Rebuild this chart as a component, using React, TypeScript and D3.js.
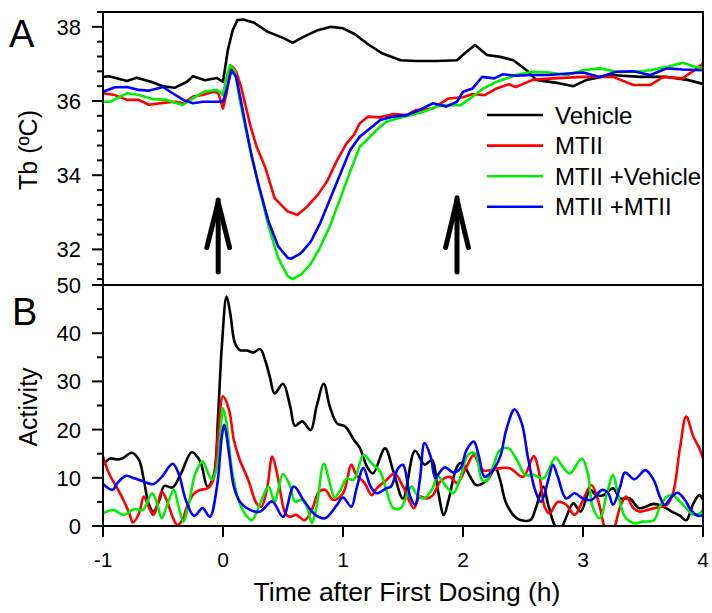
import React from "react";
import * as d3 from "d3";

// shared time axis (h)
const timeTicks = [-1, 0, 1, 2, 3, 4];
const tbTicks = [32, 34, 36, 38];
const activityTicks = [0, 10, 20, 30, 40, 50];
const seriesNames = ["Vehicle", "MTII", "MTII +Vehicle", "MTII +MTII"];
const seriesColors = ["#000000", "#ff0000", "#00ee00", "#0000ff"];
// dosing arrows: time, tail Tb, tip Tb
const doseArrows = [
  [-0.04, 31.39, 33.33],
  [1.95, 31.39, 33.39],
];

// body temperature (ºC), [time, value]
const tbVehicle = [
  [-1, 36.65], [-0.95, 36.67], [-0.8, 36.54], [-0.72, 36.63], [-0.6, 36.52], [-0.5, 36.4],
  [-0.4, 36.36], [-0.3, 36.52], [-0.25, 36.67], [-0.15, 36.56], [-0.05, 36.62], [0, 36.52],
  [0.04, 37.37], [0.08, 37.9], [0.12, 38.18], [0.17, 38.2], [0.26, 38.11], [0.37, 37.87],
  [0.51, 37.69], [0.58, 37.57], [0.67, 37.73], [0.79, 37.91], [0.9, 38.0], [1.0, 37.96],
  [1.1, 37.8], [1.2, 37.55], [1.33, 37.28], [1.48, 37.1], [1.61, 37.08], [1.78, 37.08],
  [1.95, 37.1], [2.02, 37.3], [2.1, 37.51], [2.2, 37.24], [2.31, 37.19], [2.42, 37.1],
  [2.53, 36.83], [2.61, 36.57], [2.78, 36.49], [2.92, 36.4], [3.03, 36.57], [3.23, 36.7],
  [3.48, 36.65], [3.7, 36.65], [3.87, 36.57], [4.0, 36.46],
];
const tbMTII = [
  [-1, 36.21], [-0.9, 36.16], [-0.8, 36.03], [-0.7, 36.03], [-0.62, 35.9], [-0.5, 35.95],
  [-0.4, 35.98], [-0.33, 35.94], [-0.25, 36.12], [-0.17, 36.16], [-0.08, 36.25], [-0.04, 36.22],
  [0.0, 35.8], [0.03, 36.21], [0.06, 36.83], [0.08, 36.92], [0.11, 36.79], [0.15, 36.39],
  [0.19, 35.85], [0.23, 35.31], [0.28, 34.77], [0.35, 34.23], [0.43, 33.38], [0.54, 33.02],
  [0.62, 32.93], [0.7, 33.15], [0.79, 33.47], [0.87, 33.85], [0.95, 34.4], [1.03, 34.86],
  [1.09, 35.08], [1.14, 35.4], [1.21, 35.58], [1.31, 35.56], [1.42, 35.65], [1.53, 35.62],
  [1.61, 35.76], [1.75, 35.8], [1.88, 36.07], [2.0, 36.1], [2.08, 36.19], [2.18, 36.16],
  [2.28, 36.34], [2.38, 36.45], [2.44, 36.38], [2.58, 36.57], [2.75, 36.61], [3.0, 36.65],
  [3.25, 36.65], [3.42, 36.43], [3.56, 36.43], [3.67, 36.65], [3.83, 36.61], [3.95, 36.88],
  [4.0, 37.01],
];
const tbMTIIVehicle = [
  [-1, 35.98], [-0.94, 35.98], [-0.8, 36.21], [-0.7, 36.16], [-0.58, 36.05], [-0.47, 36.03],
  [-0.34, 35.89], [-0.25, 36.07], [-0.16, 36.25], [-0.05, 36.3], [0.0, 36.16], [0.03, 36.65],
  [0.06, 36.97], [0.1, 36.79], [0.14, 36.03], [0.18, 35.4], [0.23, 34.64], [0.3, 33.69],
  [0.38, 32.62], [0.46, 31.77], [0.54, 31.27], [0.58, 31.2], [0.65, 31.32], [0.73, 31.6],
  [0.81, 32.06], [0.89, 32.62], [0.98, 33.4], [1.06, 34.1], [1.14, 34.77], [1.2, 34.95],
  [1.28, 35.22], [1.36, 35.44], [1.45, 35.53], [1.56, 35.62], [1.67, 35.71], [1.78, 35.85],
  [1.86, 35.89], [1.98, 35.89], [2.06, 36.07], [2.17, 36.34], [2.28, 36.52], [2.38, 36.63],
  [2.44, 36.7], [2.58, 36.79], [2.72, 36.77], [2.87, 36.7], [3.0, 36.83], [3.14, 36.88],
  [3.28, 36.79], [3.42, 36.79], [3.56, 36.83], [3.7, 36.92], [3.83, 37.03], [3.92, 36.94],
  [4.0, 36.88],
];
const tbMTIIMTII = [
  [-1, 36.25], [-0.9, 36.37], [-0.8, 36.38], [-0.7, 36.3], [-0.62, 36.28], [-0.5, 36.38],
  [-0.42, 36.21], [-0.33, 36.03], [-0.25, 35.94], [-0.17, 35.98], [-0.03, 35.98], [0.0, 35.99],
  [0.03, 36.3], [0.07, 36.83], [0.11, 36.65], [0.15, 36.0], [0.19, 35.31], [0.24, 34.5],
  [0.3, 33.69], [0.38, 32.75], [0.46, 32.08], [0.54, 31.77], [0.57, 31.75], [0.65, 31.9],
  [0.73, 32.2], [0.81, 32.71], [0.89, 33.34], [0.98, 34.05], [1.06, 34.68], [1.14, 35.04],
  [1.23, 35.27], [1.31, 35.49], [1.42, 35.58], [1.53, 35.62], [1.64, 35.76], [1.75, 35.94],
  [1.86, 35.85], [1.95, 35.98], [2.0, 36.25], [2.08, 36.34], [2.16, 36.65], [2.26, 36.61],
  [2.33, 36.72], [2.44, 36.68], [2.58, 36.7], [2.72, 36.7], [2.87, 36.74], [3.0, 36.77],
  [3.14, 36.65], [3.28, 36.79], [3.42, 36.8], [3.56, 36.7], [3.7, 36.88], [3.83, 36.85],
  [4.0, 36.83],
];

// activity counts, [time, value]
const actVehicle = [
  [-1.0, 12.7], [-0.94, 14.0], [-0.88, 13.8], [-0.84, 14.0], [-0.76, 15.2], [-0.7, 13.7],
  [-0.66, 9.6], [-0.62, 4.7], [-0.58, 3.0], [-0.53, 5.4], [-0.49, 8.3], [-0.42, 8.0],
  [-0.35, 10.9], [-0.26, 15.3], [-0.19, 13.4], [-0.13, 8.2], [-0.08, 10.2], [-0.04, 23.4],
  [-0.01, 37.2], [0.03, 47.6], [0.06, 44.2], [0.1, 37.9], [0.14, 36.5], [0.2, 36.4],
  [0.25, 36.0], [0.31, 36.7], [0.35, 34.5], [0.39, 31.0], [0.43, 27.5], [0.5, 29.5],
  [0.56, 24.8], [0.6, 20.8], [0.66, 21.7], [0.73, 19.9], [0.78, 24.8], [0.84, 29.5],
  [0.89, 24.8], [0.95, 21.3], [1.02, 20.6], [1.09, 17.9], [1.14, 16.2], [1.2, 12.3],
  [1.25, 10.9], [1.35, 16.1], [1.42, 11.3], [1.5, 5.7], [1.6, 15.6], [1.68, 12.7],
  [1.74, 13.7], [1.79, 7.5], [1.84, 2.3], [1.88, 5.4], [1.95, 12.3], [1.99, 13.1],
  [2.06, 10.2], [2.11, 8.5], [2.2, 9.5], [2.27, 12.0], [2.31, 9.5], [2.36, 4.7],
  [2.45, 1.6], [2.56, 1.2], [2.61, 4.0], [2.67, 8.2], [2.71, 4.4], [2.77, -0.1],
  [2.81, -0.8], [2.85, 1.2], [2.92, 4.7], [2.98, 3.0], [3.06, 7.5], [3.11, 6.4],
  [3.17, 6.4], [3.25, 7.8], [3.31, 5.7], [3.39, 5.7], [3.47, 3.7], [3.59, 4.6],
  [3.67, 4.0], [3.74, 3.0], [3.81, 2.1], [3.86, 1.2], [3.92, 4.7], [3.97, 6.4], [4.0, 5.4],
];
const actMTII = [
  [-1.0, 14.4], [-0.95, 10.9], [-0.89, 8.2], [-0.83, 5.4], [-0.78, 2.6], [-0.75, 0.7],
  [-0.7, 2.6], [-0.66, 6.1], [-0.62, 4.0], [-0.58, 2.3], [-0.55, 4.0], [-0.51, 7.1],
  [-0.47, 5.4], [-0.42, 1.9], [-0.38, 0.2], [-0.34, 1.2], [-0.3, 4.0], [-0.24, 6.8],
  [-0.19, 7.5], [-0.13, 7.8], [-0.08, 9.6], [-0.04, 19.2], [0.0, 26.9], [0.05, 24.1],
  [0.09, 17.9], [0.14, 13.7], [0.21, 9.6], [0.28, 4.7], [0.32, 4.0], [0.37, 8.2],
  [0.41, 14.4], [0.45, 11.0], [0.48, 6.8], [0.52, 2.6], [0.56, 1.9], [0.61, 2.3],
  [0.68, 1.2], [0.74, 3.3], [0.8, 7.1], [0.85, 7.5], [0.92, 5.4], [1.0, 6.8],
  [1.07, 12.7], [1.11, 10.6], [1.18, 8.9], [1.24, 6.4], [1.28, 7.8], [1.36, 9.5],
  [1.43, 10.9], [1.5, 8.2], [1.59, 3.7], [1.64, 6.1], [1.7, 5.7], [1.75, 6.4],
  [1.81, 9.2], [1.89, 10.2], [1.95, 8.9], [2.03, 12.3], [2.09, 14.7], [2.16, 11.6],
  [2.23, 11.6], [2.31, 12.0], [2.39, 12.0], [2.5, 10.2], [2.59, 14.5], [2.63, 11.6],
  [2.68, 4.0], [2.72, 2.6], [2.79, 5.0], [2.86, 4.4], [2.93, 2.3], [3.0, 5.4],
  [3.07, 8.5], [3.13, 5.0], [3.17, 0.5], [3.21, -2.5], [3.26, -0.5], [3.31, 4.0],
  [3.36, 6.1], [3.42, 3.7], [3.47, 3.0], [3.59, 3.7], [3.7, 4.4], [3.75, 6.8],
  [3.81, 16.5], [3.86, 22.7], [3.92, 18.5], [3.97, 16.1], [4.0, 14.0],
];
const actMTIIVehicle = [
  [-1.0, 2.6], [-0.91, 3.3], [-0.83, 2.3], [-0.74, 3.5], [-0.67, 3.3], [-0.59, 6.8],
  [-0.55, 4.7], [-0.51, 1.6], [-0.47, 4.0], [-0.41, 7.5], [-0.37, 4.0], [-0.33, 0.9],
  [-0.29, 4.0], [-0.23, 10.9], [-0.17, 13.4], [-0.13, 11.3], [-0.09, 9.6], [-0.05, 12.3],
  [-0.02, 19.9], [0.0, 24.4], [0.03, 21.3], [0.07, 12.3], [0.13, 5.4], [0.19, 2.3],
  [0.24, 1.2], [0.31, 4.7], [0.38, 8.2], [0.43, 5.1], [0.5, 10.8], [0.56, 8.2],
  [0.6, 5.1], [0.66, 5.4], [0.7, 4.0], [0.74, 0.6], [0.78, 4.0], [0.84, 12.9],
  [0.89, 8.9], [0.93, 5.9], [0.98, 7.5], [1.03, 9.8], [1.09, 9.6], [1.17, 14.7],
  [1.24, 13.0], [1.31, 11.3], [1.36, 7.5], [1.42, 3.7], [1.48, 3.7], [1.53, 6.1],
  [1.57, 8.2], [1.61, 6.8], [1.67, 5.7], [1.74, 7.5], [1.79, 10.2], [1.86, 8.2],
  [1.92, 6.8], [1.98, 10.2], [2.04, 14.7], [2.1, 15.1], [2.16, 9.5], [2.2, 9.5],
  [2.25, 12.3], [2.31, 15.8], [2.38, 16.1], [2.45, 13.7], [2.52, 10.6], [2.59, 10.6],
  [2.67, 9.9], [2.77, 14.2], [2.82, 12.7], [2.89, 10.9], [2.99, 14.0], [3.04, 10.9],
  [3.08, 4.0], [3.14, 1.6], [3.2, 6.8], [3.25, 10.6], [3.29, 6.8], [3.35, 1.9],
  [3.42, 0.6], [3.5, 0.9], [3.59, 1.2], [3.64, 4.0], [3.7, 6.1], [3.75, 6.4],
  [3.81, 5.0], [3.86, 3.7], [3.92, 2.3], [3.97, 2.6], [4.0, 3.3],
];
const actMTIIMTII = [
  [-1.0, 8.7], [-0.92, 7.5], [-0.88, 8.9], [-0.81, 10.4], [-0.74, 9.9], [-0.66, 9.2],
  [-0.58, 8.7], [-0.51, 10.2], [-0.42, 12.9], [-0.37, 10.9], [-0.31, 5.4], [-0.24, 2.1],
  [-0.17, 3.7], [-0.11, 1.9], [-0.05, 8.2], [-0.01, 18.5], [0.01, 21.0], [0.05, 15.1],
  [0.09, 8.2], [0.14, 5.1], [0.23, 3.3], [0.31, 3.0], [0.41, 5.1], [0.5, 1.9],
  [0.59, 8.2], [0.67, 5.4], [0.77, 2.3], [0.85, 1.6], [0.95, 4.4], [1.0, 5.9],
  [1.07, 4.0], [1.11, 7.5], [1.17, 12.0], [1.23, 8.2], [1.28, 6.8], [1.36, 7.8],
  [1.4, 8.2], [1.46, 12.0], [1.5, 12.7], [1.56, 6.1], [1.6, 4.4], [1.64, 9.5],
  [1.68, 17.2], [1.73, 14.4], [1.77, 9.9], [1.81, 11.3], [1.85, 12.2], [1.92, 11.1],
  [1.98, 12.0], [2.03, 15.8], [2.09, 17.5], [2.13, 14.7], [2.18, 10.2], [2.24, 11.3],
  [2.31, 14.4], [2.36, 19.9], [2.43, 24.2], [2.49, 21.3], [2.54, 14.4], [2.6, 7.5],
  [2.65, 5.0], [2.71, 9.5], [2.75, 12.7], [2.79, 10.2], [2.86, 5.7], [2.93, 6.8],
  [3.0, 5.7], [3.07, 5.4], [3.16, 7.5], [3.21, 6.8], [3.25, 4.4], [3.31, 8.2],
  [3.35, 11.1], [3.43, 9.7], [3.52, 11.6], [3.59, 9.5], [3.64, 6.1], [3.68, 4.4],
  [3.74, 6.1], [3.79, 6.9], [3.85, 5.4], [3.9, 3.3], [3.96, 2.1], [4.0, 2.3],
];

const tbSeries = [tbVehicle, tbMTII, tbMTIIVehicle, tbMTIIMTII];
const actSeries = [actVehicle, actMTII, actMTIIVehicle, actMTIIMTII];

const font = "'Liberation Sans', Arial, sans-serif";

export default function App() {
  const width = 712;
  const height = 613;
  const left = 103, right = 703, top = 12, mid = 285, bottom = 526;

  const x = d3.scaleLinear().domain([-1, 4]).range([left, right]);
  const yA = d3.scaleLinear().domain([31.04, 38.4]).range([mid, top]);
  const yB = d3.scaleLinear().domain([0, 50]).range([bottom, mid]);

  const lineA = d3.line<number[]>().x(d => x(d[0])).y(d => yA(d[1]));
  const lineB = d3
    .line<number[]>()
    .x(d => x(d[0]))
    .y(d => yB(d[1]))
    .curve(d3.curveCatmullRom.alpha(0.5));

  const tbMinor = d3.range(31.2, 38.41, 0.4).filter(v => !tbTicks.some(t => Math.abs(t - v) < 0.01));
  const actMinor = d3.range(5, 50, 10);

  return (
    <svg
      width={width}
      height={height}
      style={{ position: "absolute", left: 0, top: 0, background: "#fff" }}
      fontFamily={font}
    >
      <defs>
        <clipPath id="clipA">
          <rect x={left} y={top} width={right - left} height={mid - top} />
        </clipPath>
        <clipPath id="clipB">
          <rect x={left} y={mid} width={right - left} height={bottom - mid} />
        </clipPath>
      </defs>

      {/* series */}
      <g clipPath="url(#clipA)" fill="none" strokeWidth={2.6} strokeLinejoin="round">
        {tbSeries.map((s, i) => (
          <path key={i} d={lineA(s) || ""} stroke={seriesColors[i]} />
        ))}
      </g>
      <g clipPath="url(#clipB)" fill="none" strokeWidth={2.6} strokeLinejoin="round">
        {actSeries.map((s, i) => (
          <path key={i} d={lineB(s) || ""} stroke={seriesColors[i]} />
        ))}
      </g>

      {/* frame */}
      <g stroke="#000" strokeWidth={2} fill="none">
        <rect x={left} y={top} width={right - left} height={bottom - top} />
        <line x1={left - 11} x2={right} y1={mid} y2={mid} />
      </g>

      {/* Tb axis */}
      <g stroke="#000" strokeWidth={2}>
        {tbTicks.map(v => (
          <line key={v} x1={left - 11} x2={left} y1={yA(v)} y2={yA(v)} />
        ))}
        {tbMinor.map(v => (
          <line key={v} x1={left - 6} x2={left} y1={yA(v)} y2={yA(v)} />
        ))}
      </g>
      <g fontSize={22} textAnchor="end">
        {tbTicks.map(v => (
          <text key={v} x={81} y={yA(v)} dy="0.36em">{v}</text>
        ))}
      </g>

      {/* Activity axis */}
      <g stroke="#000" strokeWidth={2}>
        {activityTicks.map(v => (
          <line key={v} x1={left - 11} x2={left} y1={yB(v)} y2={yB(v)} />
        ))}
        {actMinor.map(v => (
          <line key={v} x1={left - 6} x2={left} y1={yB(v)} y2={yB(v)} />
        ))}
      </g>
      <g fontSize={22} textAnchor="end">
        {activityTicks.map(v => (
          <text key={v} x={81} y={yB(v)} dy="0.36em">{v}</text>
        ))}
      </g>

      {/* time axis */}
      <g stroke="#000" strokeWidth={2}>
        {timeTicks.map(v => (
          <line key={v} x1={x(v)} x2={x(v)} y1={bottom} y2={bottom + 11} />
        ))}
      </g>
      <g fontSize={21} textAnchor="middle">
        {timeTicks.map(v => (
          <text key={v} x={x(v)} y={567}>{v}</text>
        ))}
      </g>
      <text x={(left + right) / 2 + 4} y={601} fontSize={26.5} textAnchor="middle">
        Time after First Dosing (h)
      </text>

      {/* axis titles and panel letters */}
      <text transform="translate(37,150) rotate(-90)" fontSize={25} textAnchor="middle">
        Tb (ºC)
      </text>
      <text transform="translate(37,407) rotate(-90)" fontSize={25} textAnchor="middle">
        Activity
      </text>
      <text x={9} y={47} fontSize={38}>A</text>
      <text x={12} y={325} fontSize={38}>B</text>

      {/* dosing arrows */}
      <g stroke="#000" strokeWidth={5} fill="none" strokeLinecap="round" strokeLinejoin="miter">
        {doseArrows.map(([t, tail, tip], i) => (
          <g key={i}>
            <line x1={x(t)} x2={x(t)} y1={yA(tail)} y2={yA(tip)} />
            <polyline
              points={`${x(t - 0.095)},${yA(32.05)} ${x(t)},${yA(tip) + 2} ${x(t + 0.095)},${yA(32.05)}`}
            />
          </g>
        ))}
      </g>

      {/* legend */}
      <g fontSize={24}>
        {seriesNames.map((name, i) => (
          <g key={name} transform={`translate(0,${115 + i * 30.6})`}>
            <line x1={487} x2={543} y1={0} y2={0} stroke={seriesColors[i]} strokeWidth={2.6} />
            <text x={555} y={0} dy="0.36em">{name}</text>
          </g>
        ))}
      </g>
    </svg>
  );
}
